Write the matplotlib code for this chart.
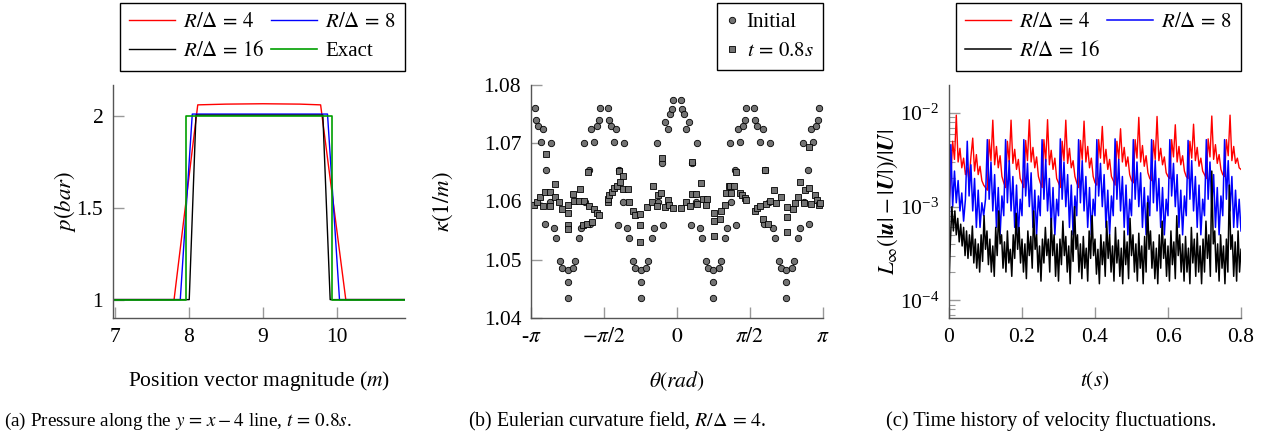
import matplotlib
matplotlib.use('Agg')
import matplotlib.pyplot as plt
from matplotlib.lines import Line2D
import numpy as np

plt.rcParams['font.family'] = ['Liberation Serif', 'DejaVu Serif']
plt.rcParams['mathtext.fontset'] = 'stix'
plt.rcParams['font.size'] = 15

# ---- (a) pressure along the line ----
pos_r4 = [6.975, 7.80, 8.12, 8.5, 9.0, 9.5, 9.78, 10.12, 10.92]
p_r4 = [1.0, 1.0, 2.059, 2.063, 2.065, 2.063, 2.059, 1.0, 1.0]
pos_r8 = [6.975, 7.884, 8.046, 9.873, 10.035, 10.92]
p_r8 = [1.0, 1.0, 2.009, 2.009, 1.0, 1.0]
pos_r16 = [6.975, 8.005, 8.096, 9.81, 9.909, 10.92]
p_r16 = [1.0, 1.0, 2.003, 2.003, 1.0, 1.0]
pos_exact = [6.975, 7.965, 7.965, 9.94, 9.94, 10.92]
p_exact = [1.0, 1.0, 2.0, 2.0, 1.0, 1.0]

# ---- (b) curvature field ----
theta_init = [-3.052, -3.028, -2.985, -2.937, -2.873, -2.815, -2.733, -2.711,
              -2.830, -2.647, -2.604, -2.513, -2.479, -2.356, -2.356, -2.356,
              -2.233, -2.199, -2.108, -2.065, -1.882,
              -2.002, -1.980, -1.898, -1.840, -1.776, -1.728, -1.685, -1.661,
              -1.481, -1.457, -1.414, -1.366, -1.302, -1.244, -1.162, -1.140,
              -1.259, -1.076, -1.033, -0.942, -0.908, -0.785, -0.785, -0.785,
              -0.662, -0.628, -0.537, -0.494, -0.311,
              -0.431, -0.409, -0.323, -0.258, -0.198, -0.146, -0.114, -0.090,
              0.090, 0.114, 0.146, 0.198, 0.258, 0.323, 0.409, 0.431,
              0.311, 0.494, 0.537, 0.628, 0.662, 0.785, 0.785, 0.785,
              0.908, 0.942, 1.033, 1.076, 1.259,
              1.140, 1.162, 1.244, 1.302, 1.366, 1.414, 1.457, 1.481,
              1.661, 1.685, 1.728, 1.776, 1.840, 1.898, 1.980, 2.002,
              1.882, 2.065, 2.108, 2.199, 2.233, 2.356, 2.356, 2.356,
              2.479, 2.513, 2.604, 2.647, 2.830,
              2.711, 2.733, 2.815, 2.873, 2.937, 2.985, 3.028, 3.052]
kappa_init = [1.0760, 1.0740, 1.0730, 1.0703, 1.0725, 1.0654, 1.0600, 1.0701,
              1.0561, 1.0555, 1.0537, 1.0497, 1.0486, 1.0483, 1.0462, 1.0434,
              1.0486, 1.0497, 1.0537, 1.0555, 1.0561,
              1.0701, 1.0600, 1.0654, 1.0725, 1.0703, 1.0730, 1.0740, 1.0760,
              1.0760, 1.0740, 1.0730, 1.0703, 1.0725, 1.0654, 1.0600, 1.0701,
              1.0560, 1.0555, 1.0538, 1.0497, 1.0486, 1.0483, 1.0462, 1.0434,
              1.0486, 1.0497, 1.0538, 1.0555, 1.0560,
              1.0701, 1.0600, 1.0666, 1.0737, 1.0725, 1.0750, 1.0758, 1.0774,
              1.0774, 1.0758, 1.0750, 1.0725, 1.0737, 1.0666, 1.0600, 1.0701,
              1.0560, 1.0555, 1.0538, 1.0497, 1.0486, 1.0483, 1.0462, 1.0434,
              1.0486, 1.0497, 1.0538, 1.0555, 1.0560,
              1.0701, 1.0600, 1.0654, 1.0725, 1.0703, 1.0730, 1.0740, 1.0760,
              1.0760, 1.0740, 1.0730, 1.0703, 1.0725, 1.0654, 1.0600, 1.0701,
              1.0561, 1.0555, 1.0537, 1.0497, 1.0486, 1.0483, 1.0462, 1.0434,
              1.0486, 1.0497, 1.0537, 1.0555, 1.0561,
              1.0701, 1.0600, 1.0654, 1.0725, 1.0703, 1.0730, 1.0740, 1.0760]

theta_final = [-3.069, -3.012, -2.947, -2.890, -2.840, -2.818, -2.732, -2.725,
               -2.617, -2.617, -2.531, -2.481, -2.352, -2.352, -2.352, -2.352,
               -2.229, -2.208, -2.100, -2.086, -2.014, -1.992, -1.935, -1.906,
               -1.885, -1.835, -1.791, -1.727, -1.669,
               -1.490, -1.490, -1.454, -1.397, -1.346, -1.289, -1.239, -1.217,
               -1.167, -1.153, -1.059, -1.038,
               -0.937, -0.894, -0.794, -0.794, -0.794, -0.650, -0.542, -0.506,
               -0.428, -0.413, -0.341, -0.320, -0.255, -0.183, -0.162, -0.090,
               0.090, 0.183, 0.269, 0.319, 0.327, 0.413, 0.427, 0.520,
               0.556, 0.628, 0.649, 0.793, 0.793, 0.793, 0.915, 0.951,
               1.037, 1.059, 1.116,
               1.131, 1.167, 1.217, 1.260, 1.346, 1.404, 1.454, 1.490,
               1.669, 1.720, 1.777, 1.849, 1.899, 1.906, 1.957, 1.992,
               2.086, 2.122, 2.244, 2.366, 2.366, 2.366, 2.495, 2.531,
               2.603, 2.639, 2.725, 2.746, 2.833, 2.833, 2.890, 2.962,
               3.012, 3.055, 3.070]
kappa_final = [1.0594, 1.0600, 1.0608, 1.0593, 1.0616, 1.0681, 1.0617, 1.0593,
               1.0630, 1.0607, 1.0600, 1.0587, 1.0594, 1.0580, 1.0559, 1.0552,
               1.0613, 1.0601, 1.0601, 1.0621, 1.0559, 1.0601, 1.0561, 1.0650,
               1.0593, 1.0564, 1.0587, 1.0580, 1.0576,
               1.0599, 1.0604, 1.0611, 1.0617, 1.0623, 1.0627, 1.0652, 1.0633,
               1.0622, 1.0643, 1.0622, 1.0599,
               1.0584, 1.0577, 1.0578, 1.0560, 1.0530, 1.0590, 1.0600, 1.0627,
               1.0592, 1.0611, 1.0614, 1.0674, 1.0591, 1.0602, 1.0594, 1.0588,
               1.0588, 1.0600, 1.0592, 1.0613, 1.0667, 1.0613, 1.0596, 1.0631,
               1.0604, 1.0594, 1.0604, 1.0581, 1.0566, 1.0541, 1.0570, 1.0583,
               1.0594, 1.0614, 1.0627,
               1.0627, 1.0614, 1.0627, 1.0651, 1.0615, 1.0611, 1.0606, 1.0603,
               1.0584, 1.0588, 1.0593, 1.0570, 1.0654, 1.0596, 1.0562, 1.0601,
               1.0620, 1.0598, 1.0607, 1.0590, 1.0574, 1.0547, 1.0587, 1.0598,
               1.0607, 1.0634, 1.0598, 1.0620, 1.0624, 1.0694, 1.0595, 1.0612,
               1.0603, 1.0594, 1.0598]

# ---- (c) velocity fluctuations, values in units of 1e-3 ----
t_rb = np.linspace(0, 0.8, 161)
linf_r4 = [1.1, 2.0, 5.0, 3.2, 9.5, 3.0, 4.2, 2.6, 3.3, 2.2,
           2.6, 1.9, 3.4, 5.4, 2.4, 3.6, 2.2, 2.7, 1.9, 1.7,
           1.6, 1.5, 5.2, 3.1, 8.4, 2.8, 4.4, 2.6, 3.5, 2.1,
           1.8, 1.6, 5.0, 3.0, 8.4, 2.9, 4.1, 2.5, 3.2, 2.0,
           1.8, 1.6, 5.1, 3.1, 8.5, 3.0, 4.3, 2.6, 3.4, 2.1,
           1.8, 1.6, 5.2, 3.0, 8.5, 2.8, 4.0, 2.5, 3.3, 2.0,
           1.8, 1.6, 5.0, 3.1, 8.4, 2.9, 4.2, 2.6, 3.1, 2.1,
           1.8, 1.6, 5.1, 3.2, 8.2, 3.0, 4.4, 2.6, 3.3, 2.1,
           1.8, 1.7, 5.2, 3.3, 7.2, 2.9, 4.1, 2.5, 3.2, 2.1,
           1.9, 1.7, 5.0, 3.2, 6.8, 3.0, 4.3, 2.7, 3.4, 2.2,
           1.9, 1.8, 5.2, 3.3, 9.0, 3.0, 4.5, 2.7, 3.5, 2.3,
           2.0, 1.9, 5.1, 3.2, 9.2, 3.1, 4.2, 2.8, 3.4, 2.3,
           2.1, 2.0, 5.2, 3.4, 7.5, 3.0, 4.4, 2.8, 3.5, 2.4,
           2.1, 2.0, 5.0, 3.3, 7.6, 3.1, 4.3, 2.7, 3.3, 2.4,
           2.2, 2.0, 5.3, 3.4, 9.3, 3.2, 4.6, 2.9, 3.6, 2.5,
           2.2, 2.1, 5.2, 3.5, 9.5, 3.1, 4.4, 2.9, 3.3, 2.6,
           2.5]
linf_r8 = [0.55, 4.6, 1.0, 2.4, 1.1, 1.9, 0.9, 1.4, 0.7, 1.2,
           5.0, 1.3, 2.8, 0.9, 2.0, 0.6, 1.5, 0.6, 1.1, 0.8,
           1.2, 5.2, 1.2, 3.0, 0.9, 2.2, 0.6, 1.6, 0.5, 1.3,
           0.8, 5.2, 1.1, 3.1, 0.9, 2.1, 0.6, 1.7, 0.5, 1.2,
           0.8, 5.2, 1.3, 2.9, 1.0, 2.3, 0.6, 1.5, 0.5, 1.3,
           0.8, 5.2, 1.2, 3.2, 0.9, 2.0, 0.6, 1.6, 0.5, 1.2,
           0.8, 5.3, 1.2, 3.0, 1.0, 2.2, 0.6, 1.7, 0.5, 1.3,
           0.8, 5.2, 1.1, 3.1, 0.9, 2.1, 0.6, 1.6, 0.5, 1.2,
           0.8, 5.2, 1.3, 2.9, 1.0, 2.2, 0.6, 1.5, 0.5, 1.3,
           0.8, 5.3, 1.2, 3.2, 0.9, 2.1, 0.6, 1.7, 0.5, 1.2,
           0.8, 5.2, 1.2, 3.0, 1.0, 2.3, 0.6, 1.6, 0.5, 1.3,
           0.8, 5.2, 1.1, 3.1, 0.9, 2.0, 0.6, 1.6, 0.5, 1.2,
           0.8, 5.2, 1.3, 2.9, 1.0, 2.2, 0.6, 1.5, 0.5, 1.3,
           0.8, 5.1, 1.2, 3.1, 0.9, 2.1, 0.6, 1.7, 0.5, 1.2,
           0.8, 5.2, 1.2, 3.0, 1.0, 2.2, 0.6, 1.6, 0.5, 1.3,
           0.8, 5.2, 1.2, 3.1, 0.9, 2.1, 0.6, 1.5, 0.6, 1.2,
           0.55]
t_k = np.linspace(0, 0.8, 201)
linf_r16 = [0.15, 0.45, 1.0, 0.55, 0.9, 0.5, 0.75, 0.42, 0.65, 0.38,
            0.6, 0.3, 0.55, 0.28, 0.5, 0.3, 0.62, 0.25, 0.45, 0.22,
            0.4, 0.2, 0.5, 0.26, 0.8, 0.35, 0.55, 0.24, 0.45, 0.2,
            0.38, 0.18, 0.6, 0.3, 0.9, 0.4, 0.5, 0.22, 0.42, 0.2,
            0.55, 0.25, 0.35, 0.18, 0.5, 0.28, 0.85, 0.35, 0.6, 0.25,
            0.45, 0.2, 0.4, 0.17, 0.55, 0.3, 0.48, 0.22, 0.9, 0.35,
            0.5, 0.2, 0.38, 0.16, 0.45, 0.25, 0.6, 0.3, 0.45, 0.2,
            0.75, 0.3, 0.5, 0.18, 0.4, 0.16, 0.45, 0.24, 0.7, 0.3,
            0.48, 0.2, 0.38, 0.15, 0.55, 0.26, 1.0, 0.35, 0.5, 0.2,
            0.4, 0.17, 0.48, 0.22, 0.36, 0.16, 0.55, 0.28, 0.8, 0.3,
            0.45, 0.19, 0.35, 0.15, 0.5, 0.24, 0.42, 0.18, 0.7, 0.28,
            0.5, 0.2, 0.38, 0.16, 0.6, 0.25, 0.44, 0.18, 0.36, 0.15,
            0.55, 0.24, 0.42, 0.17, 0.75, 0.3, 0.5, 0.2, 0.4, 0.16,
            0.52, 0.22, 0.38, 0.15, 0.48, 0.2, 1.1, 0.35, 0.55, 0.22,
            0.42, 0.17, 0.36, 0.15, 0.5, 0.22, 0.7, 0.28, 0.45, 0.18,
            0.38, 0.16, 0.55, 0.24, 0.42, 0.17, 0.8, 0.3, 0.5, 0.2,
            0.4, 0.16, 0.48, 0.2, 0.36, 0.15, 0.6, 0.25, 0.45, 0.18,
            0.52, 0.2, 0.38, 0.15, 0.45, 0.2, 0.7, 0.28, 0.5, 0.18,
            2.4, 0.4, 0.55, 0.2, 0.4, 0.16, 0.5, 0.22, 0.38, 0.15,
            0.45, 0.2, 1.7, 0.35, 0.5, 0.18, 0.42, 0.16, 0.55, 0.2,
            0.35]

fig = plt.figure(figsize=(12.71, 4.41), dpi=100)
W, H = 1271, 441
axes = []
for left in (113, 531, 949):
    ax = fig.add_axes([left / W, (H - 318) / H, 292 / W, 233 / H])
    for s in ('top', 'right'):
        ax.spines[s].set_visible(False)
    for s in ('left', 'bottom'):
        ax.spines[s].set_color('#555555')
        ax.spines[s].set_linewidth(1.0)
    ax.tick_params(which='major', direction='in', length=8, width=1.0,
                   color='#999999', labelsize=15.5, pad=7)
    ax.tick_params(which='minor', direction='in', length=4.5, width=0.8,
                   color='#999999')
    axes.append(ax)
axA, axB, axC = axes


def legend_box(ax, handles, labels, ncol, **kw):
    leg = ax.legend(handles, labels, ncol=ncol, loc='upper right',
                    bbox_to_anchor=(1.0, 1.352), borderaxespad=0,
                    fancybox=False, framealpha=1, edgecolor='black',
                    fontsize=15, borderpad=0.45, labelspacing=0.45, **kw)
    leg.get_frame().set_linewidth(1.0)
    return leg


lab4 = r'$R/\Delta\,=\,4$'
lab8 = r'$R/\Delta\,=\,8$'
lab16 = r'$R/\Delta\,=\,16$'

# plot A
hA4, = axA.plot(pos_r4, p_r4, color='red', lw=1.0)
hA8, = axA.plot(pos_r8, p_r8, color='blue', lw=1.0)
hA16, = axA.plot(pos_r16, p_r16, color='black', lw=1.0)
hAe, = axA.plot(pos_exact, p_exact, color='#00a000', lw=1.2)
axA.set_xlim(6.975, 10.92)
axA.set_ylim(0.9, 2.167)
axA.set_xticks([7, 8, 9, 10])
axA.set_yticks([1, 1.5, 2])
axA.set_yticklabels(['1', '1.5', '2'])
axA.set_ylabel('$p(bar)$', va='center', fontsize=16.5)
axA.yaxis.set_label_coords((65 - 113) / 292, 0.5)
axA.set_xlabel('Position vector magnitude ($m$)', va='center', fontsize=15.5)
axA.xaxis.set_label_coords(0.5, (318 - 381) / 233)
legend_box(axA, [hA4, hA16, hA8, hAe], [lab4, lab16, lab8, 'Exact'],
           2, handlelength=2.2, columnspacing=0.3, handletextpad=0.4)

# plot B
axB.plot(theta_init, kappa_init, 'o', ms=4.6, mfc='#737373', mec='black',
         mew=0.6, clip_on=False)
axB.plot(theta_final, kappa_final, 's', ms=4.3, mfc='#737373', mec='black',
         mew=0.6, clip_on=False)
axB.set_xlim(-np.pi, np.pi)
axB.set_ylim(1.04, 1.08)
axB.set_xticks([-np.pi, -np.pi / 2, 0, np.pi / 2, np.pi])
axB.set_xticklabels([r'-$\pi$', r'$-\pi/2$', '$0$', r'$\pi/2$', r'$\pi$'])
axB.set_yticks([1.04, 1.05, 1.06, 1.07, 1.08])
axB.set_ylabel(r'$\kappa(1/m)$', va='center', fontsize=16.5)
axB.yaxis.set_label_coords((443 - 531) / 292, 0.5)
axB.set_xlabel(r'$\theta(rad)$', va='center', fontsize=15.5)
axB.xaxis.set_label_coords(0.5, (318 - 381) / 233)
hb1 = Line2D([], [], marker='o', ls='none', ms=4.6, mfc='#737373', mec='black', mew=0.6)
hb2 = Line2D([], [], marker='s', ls='none', ms=4.3, mfc='#737373', mec='black', mew=0.6)
legend_box(axB, [hb1, hb2], ['Initial', r'$t\,=\,0.8s$'], 1,
           handlelength=0.6, handletextpad=0.4)

# plot C
hC4, = axC.plot(t_rb, np.array(linf_r4) * 1e-3, color='red', lw=1.0)
hC8, = axC.plot(t_rb, np.array(linf_r8) * 1e-3, color='blue', lw=1.1)
hC16, = axC.plot(t_k, np.array(linf_r16) * 1e-3, color='black', lw=1.1)
axC.set_yscale('log')
axC.set_xlim(0, 0.8)
axC.set_ylim(10 ** -4.19, 10 ** -1.70)
axC.set_xticks([0, 0.2, 0.4, 0.6, 0.8])
axC.set_xticklabels(['0', '0.2', '0.4', '0.6', '0.8'])
axC.set_ylabel(r'$L_\infty(|\boldsymbol{u}|-|\boldsymbol{U}|)/|\boldsymbol{U}|$',
               va='center', fontsize=16.5)
axC.yaxis.set_label_coords((888 - 949) / 292, 0.5)
axC.set_xlabel('$t(s)$', va='center', fontsize=15.5)
axC.xaxis.set_label_coords(0.5, (318 - 381) / 233)
legend_box(axC, [hC4, hC16, hC8], [lab4, lab16, lab8],
           2, handlelength=2.2, columnspacing=0.3, handletextpad=0.4)

# captions
fig.text(4 / W, 1 - 421 / H,
         r'(a) Pressure along the $y\,=\,x-4$ line, $t\,=\,0.8s$.',
         ha='left', va='center', fontsize=13.8)
fig.text(468 / W, 1 - 421 / H, r'(b) Eulerian curvature field, $R/\Delta\,=\,4$.',
         ha='left', va='center', fontsize=14.3)
fig.text(886 / W, 1 - 421 / H, '(c) Time history of velocity fluctuations.',
         ha='left', va='center', fontsize=14.7)

fig.savefig('out.png', dpi=100)
